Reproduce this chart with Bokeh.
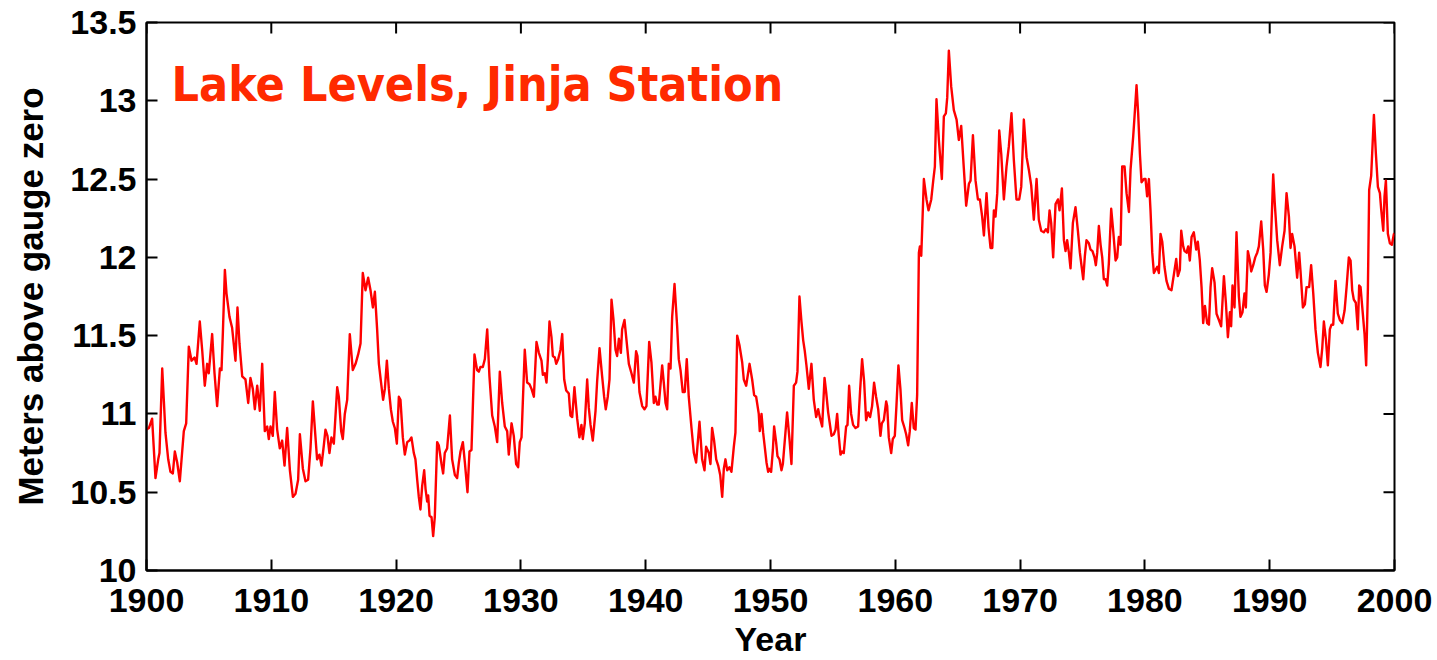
import math
from bokeh.plotting import figure
from bokeh.models import Range1d, LinearAxis, FixedTicker, Label
from bokeh.embed import file_html
from bokeh.resources import INLINE

# ---------------- data ----------------
years = [
    1900.00, 1900.19, 1900.45, 1900.72, 1900.94, 1901.04, 1901.26, 1901.52, 1901.74, 1901.92,
    1902.11, 1902.27, 1902.46, 1902.67, 1902.99, 1903.18, 1903.39, 1903.61, 1903.85, 1904.01,
    1904.27, 1904.46, 1904.67, 1904.86, 1904.99, 1905.26, 1905.45, 1905.66, 1905.88, 1906.01,
    1906.12, 1906.28, 1906.41, 1906.65, 1906.86, 1907.13, 1907.29, 1907.45, 1907.67, 1907.93,
    1908.15, 1908.33, 1908.52, 1908.68, 1908.87, 1909.08, 1909.27, 1909.48, 1909.67, 1909.80,
    1909.94, 1910.12, 1910.28, 1910.47, 1910.68, 1910.87, 1911.06, 1911.27, 1911.49, 1911.73,
    1911.94, 1912.15, 1912.29, 1912.53, 1912.74, 1912.95,
    1913.14, 1913.33, 1913.67, 1913.86, 1914.02, 1914.21, 1914.34, 1914.50, 1914.66, 1914.82,
    1915.01, 1915.28, 1915.41, 1915.60, 1915.73, 1915.89, 1916.08, 1916.29, 1916.53, 1916.75,
    1916.96, 1917.15, 1917.33, 1917.55, 1917.76, 1917.95, 1918.14, 1918.30, 1918.48, 1918.62,
    1918.78, 1918.96, 1919.10, 1919.26, 1919.42, 1919.58, 1919.74, 1919.90, 1920.06, 1920.22,
    1920.35, 1920.54, 1920.70, 1920.89, 1921.07, 1921.23, 1921.42, 1921.55, 1921.69, 1921.82,
    1921.95, 1922.09, 1922.25, 1922.36, 1922.49, 1922.57, 1922.68, 1922.84, 1922.97, 1923.10,
    1923.29, 1923.42, 1923.64, 1923.77, 1923.90, 1924.09, 1924.31, 1924.49, 1924.71, 1924.89,
    1925.03, 1925.16, 1925.35, 1925.51,
    1925.72, 1925.88, 1926.04, 1926.15, 1926.28, 1926.49, 1926.63, 1926.76, 1926.95, 1927.11,
    1927.30, 1927.48, 1927.70, 1927.91, 1928.10, 1928.31, 1928.50, 1928.71, 1928.90, 1929.03,
    1929.25, 1929.43, 1929.62, 1929.78, 1929.91, 1930.05, 1930.31, 1930.50, 1930.69, 1930.85,
    1931.04, 1931.25, 1931.44, 1931.65, 1931.76, 1931.92, 1932.05, 1932.16, 1932.29, 1932.45,
    1932.56, 1932.72, 1932.83, 1932.99, 1933.17, 1933.31, 1933.47, 1933.63, 1933.84, 1933.97,
    1934.11, 1934.29, 1934.51, 1934.69, 1934.85, 1934.96, 1935.12, 1935.31, 1935.44, 1935.58,
    1935.76, 1935.98, 1936.11, 1936.30, 1936.51, 1936.67, 1936.80, 1936.96, 1937.10, 1937.26,
    1937.42, 1937.58, 1937.71, 1937.85, 1938.01, 1938.11, 1938.30,
    1938.65, 1938.86, 1939.05, 1939.23, 1939.34, 1939.50, 1939.72, 1939.90, 1940.06, 1940.28,
    1940.46, 1940.65, 1940.78, 1940.92, 1941.05, 1941.32, 1941.45, 1941.59, 1941.72, 1941.85,
    1941.99, 1942.12, 1942.31, 1942.52, 1942.65, 1942.79, 1942.97, 1943.13, 1943.29, 1943.45,
    1943.67, 1943.86, 1944.04, 1944.31, 1944.52, 1944.71, 1944.84, 1945.06, 1945.19, 1945.32,
    1945.48, 1945.65, 1945.81, 1945.97, 1946.13, 1946.26, 1946.39, 1946.53, 1946.71, 1946.87,
    1947.06, 1947.19, 1947.33, 1947.51, 1947.73, 1947.86, 1948.05, 1948.32, 1948.53, 1948.69,
    1948.85, 1949.06, 1949.14, 1949.28, 1949.41, 1949.54, 1949.68, 1949.81, 1949.92, 1950.05,
    1950.19, 1950.29, 1950.45, 1950.56, 1950.72, 1950.88, 1950.99,
    1951.33, 1951.52, 1951.68, 1951.87, 1952.05, 1952.16, 1952.32, 1952.48, 1952.62, 1952.75,
    1952.88, 1953.07, 1953.28, 1953.47, 1953.66, 1953.82, 1953.98, 1954.14, 1954.33, 1954.46,
    1954.62, 1954.73, 1954.89, 1955.07, 1955.21, 1955.34, 1955.47, 1955.61, 1955.74, 1955.87,
    1956.06, 1956.17, 1956.30, 1956.46, 1956.62, 1956.81, 1957.02, 1957.18, 1957.34, 1957.50,
    1957.66, 1957.82, 1957.98, 1958.14, 1958.30, 1958.46, 1958.63, 1958.81, 1958.92, 1959.08,
    1959.27, 1959.35, 1959.48, 1959.67, 1959.80, 1959.96, 1960.09, 1960.25, 1960.41, 1960.55,
    1960.74, 1960.87, 1961.03, 1961.16, 1961.32, 1961.48, 1961.62, 1961.75,
    1961.89, 1961.97, 1962.08, 1962.29, 1962.50, 1962.66, 1962.88, 1963.04, 1963.17, 1963.30,
    1963.49, 1963.73, 1963.89, 1964.05, 1964.16, 1964.29, 1964.48, 1964.69, 1964.91, 1965.09,
    1965.28, 1965.49, 1965.68, 1965.90, 1966.03, 1966.22, 1966.43, 1966.62, 1966.78, 1966.96,
    1967.10, 1967.31, 1967.47, 1967.63, 1967.77, 1967.90, 1968.03, 1968.17, 1968.33, 1968.49,
    1968.70, 1968.91, 1969.10, 1969.31, 1969.50, 1969.71, 1969.93, 1970.09, 1970.30, 1970.52,
    1970.70, 1970.89, 1971.10, 1971.32, 1971.50, 1971.69, 1971.90, 1972.07, 1972.23, 1972.36,
    1972.49, 1972.65, 1972.84, 1973.03, 1973.16, 1973.35,
    1973.51, 1973.64, 1973.77, 1973.91, 1974.04, 1974.23, 1974.44, 1974.63, 1974.79, 1974.90,
    1975.06, 1975.19, 1975.32, 1975.51, 1975.64, 1975.80, 1975.96, 1976.07, 1976.18, 1976.31,
    1976.45, 1976.58, 1976.71, 1976.85, 1976.98, 1977.11, 1977.30, 1977.46, 1977.65, 1977.78,
    1977.91, 1978.05, 1978.18, 1978.37, 1978.53, 1978.72, 1978.85, 1979.06, 1979.17, 1979.33,
    1979.46, 1979.60, 1979.73, 1979.92, 1980.05, 1980.18, 1980.32, 1980.45, 1980.59, 1980.72,
    1980.85, 1980.99, 1981.12, 1981.25, 1981.39, 1981.57, 1981.73, 1981.92, 1982.13, 1982.32,
    1982.51, 1982.64, 1982.80, 1982.91, 1983.07, 1983.18, 1983.34, 1983.47, 1983.60, 1983.74,
    1983.92, 1984.11, 1984.24, 1984.40, 1984.54, 1984.67, 1984.81, 1984.99, 1985.13, 1985.26,
    1985.39, 1985.58, 1985.74, 1985.93, 1986.11,
    1986.33, 1986.49, 1986.65, 1986.81, 1986.91, 1987.02, 1987.18, 1987.34, 1987.53, 1987.66,
    1987.82, 1987.98, 1988.09, 1988.25, 1988.41, 1988.52, 1988.68, 1988.84, 1989.00, 1989.13,
    1989.32, 1989.48, 1989.61, 1989.75, 1989.93, 1990.07, 1990.28, 1990.41, 1990.60, 1990.81,
    1991.00, 1991.19, 1991.35, 1991.54, 1991.67, 1991.80, 1991.99, 1992.20, 1992.36, 1992.47,
    1992.66, 1992.82, 1992.95, 1993.16, 1993.32, 1993.49, 1993.67, 1993.86, 1994.07, 1994.21,
    1994.34, 1994.50, 1994.66, 1994.82, 1994.95, 1995.09, 1995.27, 1995.46, 1995.62, 1995.81,
    1996.00, 1996.16, 1996.34, 1996.48, 1996.61, 1996.74, 1996.90, 1997.06, 1997.17, 1997.28,
    1997.44, 1997.60, 1997.73, 1997.87, 1997.97, 1998.13, 1998.35, 1998.51, 1998.67, 1998.83,
    1998.93, 1999.10, 1999.20, 1999.31, 1999.47, 1999.63, 1999.79, 1999.95, 2000.00,
]

levels = [
    10.90, 10.91, 10.97, 10.59, 10.71, 10.75, 11.29, 10.88, 10.71, 10.63,
    10.62, 10.76, 10.69, 10.57, 10.89, 10.94, 11.43, 11.34, 11.36, 11.32,
    11.59, 11.41, 11.18, 11.32, 11.26, 11.51, 11.26, 11.05, 11.29, 11.28,
    11.52, 11.92, 11.77, 11.62, 11.55, 11.34, 11.68, 11.45, 11.24, 11.22,
    11.07, 11.23, 11.16, 11.03, 11.18, 11.02, 11.32, 10.89, 10.92, 10.84,
    10.92, 10.86, 11.14, 10.90, 10.78, 10.83, 10.67, 10.91, 10.64, 10.47,
    10.49, 10.58, 10.87, 10.65, 10.57, 10.58,
    10.78, 11.08, 10.71, 10.74, 10.67, 10.80, 10.90, 10.86, 10.75, 10.85,
    10.81, 11.17, 11.11, 10.89, 10.84, 11.00, 11.09, 11.51, 11.28, 11.32,
    11.38, 11.45, 11.90, 11.79, 11.87, 11.79, 11.68, 11.78, 11.54, 11.32,
    11.21, 11.09, 11.16, 11.34, 11.16, 11.03, 10.95, 10.91, 10.81, 11.11,
    11.09, 10.85, 10.74, 10.82, 10.83, 10.85, 10.75, 10.71, 10.58, 10.47,
    10.39, 10.54, 10.64, 10.52, 10.44, 10.48, 10.35, 10.34, 10.22, 10.34,
    10.82, 10.80, 10.68, 10.62, 10.75, 10.78, 10.99, 10.71, 10.61, 10.59,
    10.69, 10.76, 10.82, 10.69,
    10.50, 10.76, 10.77, 11.05, 11.38, 11.28, 11.27, 11.30, 11.30, 11.35,
    11.54, 11.24, 10.99, 10.92, 10.82, 11.27, 11.07, 10.92, 10.89, 10.74,
    10.94, 10.86, 10.68, 10.66, 10.82, 10.85, 11.41, 11.20, 11.19, 11.16,
    11.11, 11.46, 11.39, 11.34, 11.25, 11.26, 11.20, 11.35, 11.59, 11.49,
    11.37, 11.36, 11.32, 11.35, 11.41, 11.51, 11.22, 11.15, 11.13, 10.99,
    10.98, 11.17, 10.97, 10.85, 10.93, 10.84, 10.94, 11.22, 11.04, 10.93,
    10.83, 11.02, 11.21, 11.42, 11.24, 11.11, 11.03, 11.11, 11.22, 11.73,
    11.60, 11.41, 11.37, 11.48, 11.39, 11.54, 11.60,
    11.32, 11.26, 11.20, 11.40, 11.37, 11.14, 11.05, 11.03, 11.05, 11.46,
    11.33, 11.07, 11.11, 11.06, 11.06, 11.31, 11.20, 11.07, 11.03, 11.32,
    11.29, 11.62, 11.83, 11.56, 11.35, 11.28, 11.14, 11.14, 11.35, 11.11,
    10.91, 10.75, 10.69, 10.95, 10.71, 10.64, 10.79, 10.75, 10.68, 10.91,
    10.83, 10.71, 10.67, 10.61, 10.47, 10.65, 10.71, 10.64, 10.66, 10.63,
    10.79, 10.88, 11.50, 11.44, 11.33, 11.22, 11.18, 11.32, 11.22, 11.12,
    11.11, 11.00, 10.89, 11.00, 10.88, 10.79, 10.69, 10.63, 10.65, 10.63,
    10.77, 10.92, 10.82, 10.73, 10.71, 10.64, 10.68,
    11.01, 10.84, 10.68, 11.18, 11.20, 11.27, 11.75, 11.59, 11.47, 11.40,
    11.31, 11.16, 11.32, 11.09, 10.98, 11.03, 10.97, 10.92, 11.23, 11.14,
    11.01, 10.95, 10.86, 10.87, 10.90, 11.00, 10.86, 10.74, 10.76, 10.75,
    10.92, 10.93, 11.18, 11.00, 10.93, 10.91, 10.92, 11.15, 11.35, 11.21,
    10.96, 11.01, 10.98, 11.05, 11.20, 11.11, 11.03, 10.86, 10.94, 10.96,
    11.08, 11.05, 10.85, 10.75, 10.84, 10.86, 11.05, 11.31, 11.16, 10.96,
    10.91, 10.87, 10.80, 10.89, 11.07, 10.91, 10.90, 11.12,
    12.03, 12.07, 12.01, 12.50, 12.37, 12.30, 12.37, 12.49, 12.58, 13.01,
    12.75, 12.50, 12.90, 12.92, 13.02, 13.32, 13.09, 12.94, 12.88, 12.75,
    12.84, 12.57, 12.33, 12.47, 12.49, 12.78, 12.49, 12.37, 12.37, 12.26,
    12.14, 12.41, 12.19, 12.06, 12.06, 12.30, 12.26, 12.41, 12.81, 12.66,
    12.37, 12.58, 12.71, 12.92, 12.62, 12.37, 12.37, 12.45, 12.88, 12.64,
    12.56, 12.46, 12.24, 12.50, 12.24, 12.17, 12.16, 12.18, 12.16, 12.30,
    12.22, 12.00, 12.34, 12.37, 12.30, 12.44,
    12.11, 12.04, 12.11, 12.03, 11.93, 12.22, 12.32, 12.17, 12.03, 11.96,
    11.86, 12.01, 12.11, 12.09, 12.05, 12.04, 12.00, 11.95, 12.03, 12.20,
    12.08, 12.00, 11.86, 11.86, 11.82, 11.96, 12.31, 12.17, 11.98, 12.00,
    12.13, 12.08, 12.58, 12.58, 12.41, 12.29, 12.56, 12.77, 12.90, 13.10,
    12.92, 12.66, 12.48, 12.50, 12.50, 12.39, 12.50, 12.30, 12.03, 11.90,
    11.92, 11.94, 11.90, 12.15, 12.10, 11.94, 11.85, 11.80, 11.79, 11.89,
    11.99, 11.88, 11.92, 12.17, 12.07, 12.04, 12.03, 12.07, 11.98, 12.13,
    12.16, 12.05, 12.10, 11.98, 11.81, 11.58, 11.69, 11.58, 11.57, 11.81,
    11.93, 11.84, 11.64, 11.60, 11.56,
    11.88, 11.71, 11.49, 11.65, 11.56, 11.82, 11.68, 12.16, 11.75, 11.62,
    11.65, 11.77, 11.68, 12.04, 11.98, 11.91, 11.95, 12.00, 12.03, 12.07,
    12.23, 12.05, 11.82, 11.78, 11.89, 12.03, 12.53, 12.34, 12.11, 11.95,
    12.07, 12.17, 12.41, 12.26, 12.06, 12.15, 12.07, 11.87, 12.03, 11.91,
    11.68, 11.70, 11.81, 11.81, 11.95, 11.77, 11.54, 11.39, 11.30, 11.42,
    11.59, 11.48, 11.31, 11.54, 11.57, 11.57, 11.85, 11.64, 11.60, 11.58,
    11.66, 11.81, 12.00, 11.98, 11.79, 11.73, 11.71, 11.54, 11.82, 11.81,
    11.66, 11.51, 11.31, 11.81, 12.43, 12.52, 12.91, 12.66, 12.45, 12.41,
    12.31, 12.17, 12.39, 12.49, 12.15, 12.09, 12.08, 12.15, 12.15,
]

x_ticks = [1900, 1910, 1920, 1930, 1940, 1950, 1960, 1970, 1980, 1990, 2000]
x_tick_labels = ["1900", "1910", "1920", "1930", "1940", "1950",
                 "1960", "1970", "1980", "1990", "2000"]
y_ticks = [10, 10.5, 11, 11.5, 12, 12.5, 13, 13.5]
y_tick_labels = ["10", "10.5", "11", "11.5", "12", "12.5", "13", "13.5"]

title_text = "Lake Levels, Jinja Station"
x_label = "Year"
y_label = "Meters above gauge zero"

# ---------------- figure ----------------
FONT = "Liberation Sans"
TITLE_FONT = "'DejaVu Sans Condensed', 'DejaVu Sans', sans-serif"
FS = "34px"
TICK_LEN = 11

p = figure(width=1437, height=660, output_backend="svg", toolbar_location=None,
           x_range=Range1d(x_ticks[0], x_ticks[-1]),
           y_range=Range1d(y_ticks[0], y_ticks[-1]),
           x_axis_type=None, y_axis_type=None,
           min_border_left=146, min_border_right=43,
           min_border_top=22, min_border_bottom=89)
p.background_fill_color = "white"
p.border_fill_color = "white"
p.outline_line_color = "black"
p.outline_line_width = 2
p.outline_line_alpha = 1.0


def style_axis(ax, ticks, labels):
    ax.ticker = FixedTicker(ticks=ticks)
    ax.major_label_overrides = {t: l for t, l in zip(ticks, labels)}
    ax.axis_line_color = "black"
    ax.axis_line_width = 2
    ax.major_tick_in = TICK_LEN
    ax.major_tick_out = 0
    ax.major_tick_line_width = 2
    ax.major_tick_line_color = "black"
    ax.minor_tick_in = 0
    ax.minor_tick_out = 0
    ax.minor_tick_line_color = None
    ax.major_label_text_font = FONT
    ax.major_label_text_font_style = "bold"
    ax.major_label_text_color = "black"
    ax.major_label_text_font_size = FS
    ax.axis_label_text_font = FONT
    ax.axis_label_text_font_style = "bold"
    ax.axis_label_text_font_size = FS
    ax.axis_label_text_color = "black"


bottom = LinearAxis()
style_axis(bottom, x_ticks, x_tick_labels)
bottom.major_label_standoff = 18
bottom.axis_label = x_label
bottom.axis_label_standoff = 5
p.add_layout(bottom, "below")

left = LinearAxis()
style_axis(left, y_ticks, y_tick_labels)
left.major_label_standoff = 10
left.axis_label = y_label
left.axis_label_text_font_size = "35px"
left.axis_label_standoff = 17
p.add_layout(left, "left")

p.xgrid.visible = False
p.ygrid.visible = False

# inward tick marks on the top and right edges of the box
p.ray(x=x_ticks, y=[y_ticks[-1]] * len(x_ticks), length=TICK_LEN, length_units="screen",
      angle=-math.pi / 2, line_color="black", line_width=2)
p.ray(x=[x_ticks[-1]] * len(y_ticks), y=y_ticks, length=TICK_LEN, length_units="screen",
      angle=math.pi, line_color="black", line_width=2)

p.line(years, levels, line_color="#FF0000", line_width=2.4, line_join="round")

p.add_layout(Label(x=25, y=487, x_units="screen", y_units="screen",
                   text=title_text, text_align="left", text_baseline="alphabetic",
                   text_font=TITLE_FONT, text_font_style="bold", text_font_size="48px",
                   text_color="#FF2A00"))

open("out.html", "w").write(file_html(p, INLINE))
